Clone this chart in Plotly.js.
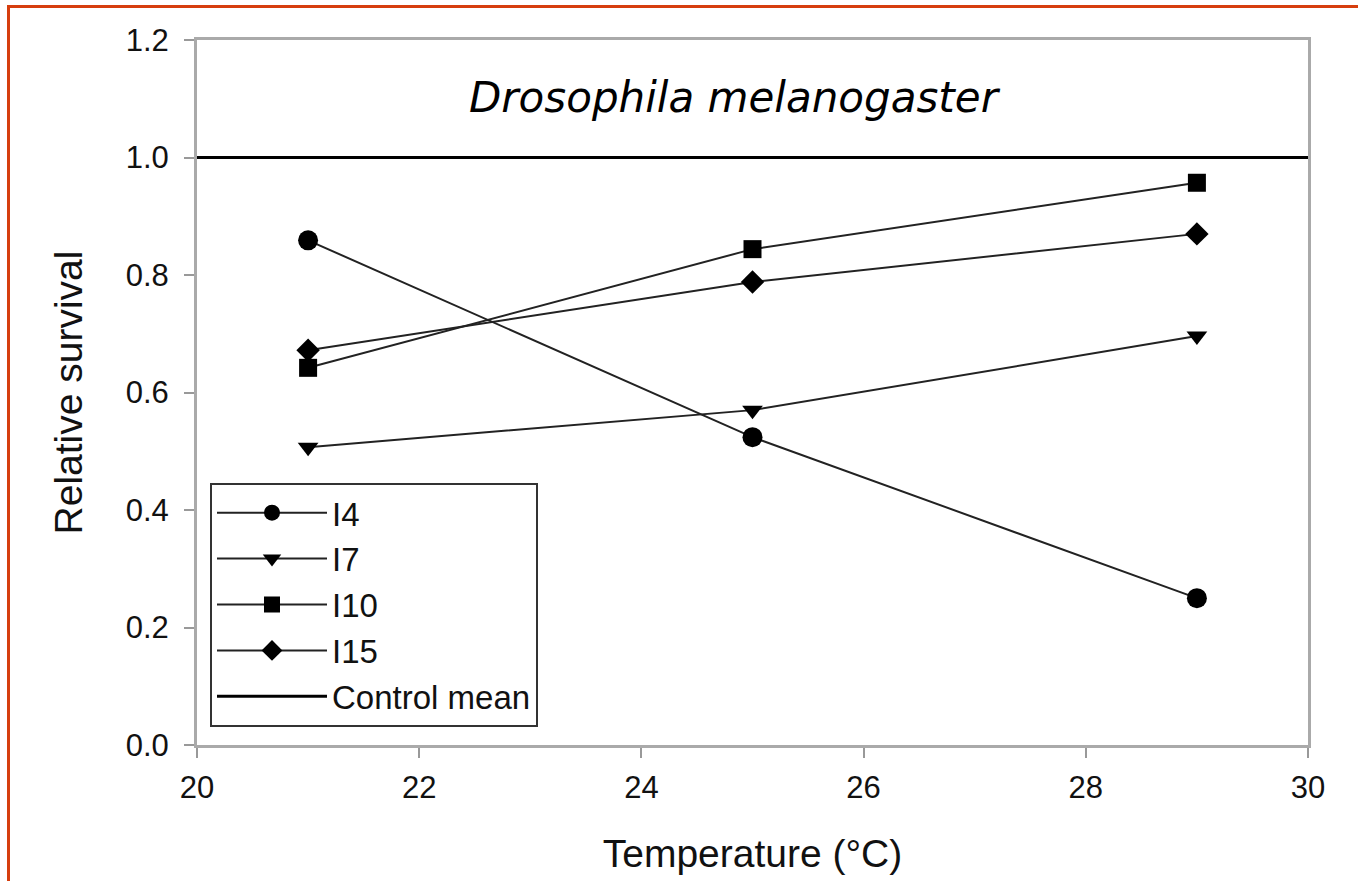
<!DOCTYPE html>
<html>
<head>
<meta charset="utf-8">
<script src="https://cdn.plot.ly/plotly-3.0.1.min.js"></script>
<style>
  html, body { margin: 0; padding: 0; background: #fff; }
  #wrap { position: relative; width: 1358px; height: 881px; }
  #chart { width: 1358px; height: 881px; }
  #frame { position: absolute; left: 7px; top: 5px; right: 0; bottom: 0;
           border-left: 3px solid rgb(214,62,14); border-top: 3px solid rgb(214,62,14);
           pointer-events: none; }
</style>
</head>
<body>
<div id="wrap">
  <div id="chart"></div>
  <div id="frame"></div>
</div>
<script>
// Data
const temperature = [21, 25, 29];
const seriesNames = ["I4", "I7", "I10", "I15"];
const I4  = [0.859, 0.524, 0.250];
const I7  = [0.507, 0.570, 0.696];
const I10 = [0.642, 0.844, 0.957];
const I15 = [0.672, 0.788, 0.870];
const controlX = [20, 30];
const controlMean = [1.0, 1.0];
const xTicks = [20, 22, 24, 26, 28, 30];
const yTicks = [0.0, 0.2, 0.4, 0.6, 0.8, 1.0, 1.2];

const symbols = ["circle", "triangle-down", "square", "diamond"];
const sizes = [20, 18, 18, 18];
const values = [I4, I7, I10, I15];

const traces = values.map((v, i) => ({
  x: temperature, y: v, name: seriesNames[i], type: "scatter", mode: "lines+markers",
  line: { color: "#222", width: 2 },
  marker: { symbol: symbols[i], size: sizes[i], color: "#000", line: { width: 0 } }
}));
traces.push({
  x: controlX, y: controlMean, name: "Control mean", type: "scatter", mode: "lines",
  line: { color: "#000", width: 3 }
});

const tickFont = { family: "Liberation Sans, Arial, sans-serif", size: 31, color: "#111" };

const layout = {
  width: 1358, height: 881,
  margin: { l: 197, r: 50, t: 40, b: 136 },
  paper_bgcolor: "#fff", plot_bgcolor: "#fff",
  showlegend: true,
  xaxis: {
    range: [20, 30], tickvals: xTicks, ticktext: xTicks.map(String),
    showgrid: false, zeroline: false, showline: true, mirror: true,
    linecolor: "#aaa", linewidth: 3,
    ticks: "outside", ticklen: 10, tickwidth: 2, tickcolor: "#999",
    ticklabelstandoff: 3,
    tickfont: tickFont,
    title: { text: "Temperature (°C)", font: { family: "Liberation Sans, Arial, sans-serif", size: 39, color: "#111" }, standoff: 36 }
  },
  yaxis: {
    range: [0, 1.2], tickvals: yTicks, ticktext: yTicks.map(v => v.toFixed(1)),
    showgrid: false, zeroline: false, showline: true, mirror: true,
    linecolor: "#aaa", linewidth: 3,
    ticks: "outside", ticklen: 10, tickwidth: 2, tickcolor: "#999",
    ticklabelstandoff: 9,
    tickfont: tickFont,
    title: { text: "Relative survival", font: { family: "Liberation Sans, Arial, sans-serif", size: 39, color: "#111" }, standoff: 32 }
  },
  legend: {
    x: 0.0117, y: 0.372, xanchor: "left", yanchor: "top",
    bgcolor: "#fff", bordercolor: "#333", borderwidth: 2,
    font: { family: "Liberation Sans, Arial, sans-serif", size: 33, color: "#111" },
    itemwidth: 110, tracegroupgap: 0
  },
  annotations: [{
    text: "<i>Drosophila melanogaster</i>", xref: "paper", yref: "paper",
    x: 0.484, y: 0.919, xanchor: "center", yanchor: "middle", showarrow: false,
    font: { family: "DejaVu Sans, Verdana, sans-serif", size: 42, color: "#000" }
  }]
};

Plotly.newPlot("chart", traces, layout, { displayModeBar: false, staticPlot: true });
</script>
</body>
</html>
